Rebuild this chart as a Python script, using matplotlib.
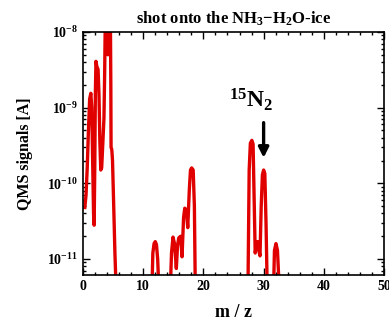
import matplotlib
matplotlib.use('Agg')
from matplotlib import pyplot as plt
from matplotlib.ticker import MultipleLocator, LogLocator, NullFormatter

# QMS scan, m/z vs signal (off-scale points clipped)
mz = [0.30, 0.50, 0.70, 0.90, 1.10, 1.30, 1.45, 1.60, 1.75, 1.85,
      1.95, 2.05, 2.15, 2.30, 2.50, 2.65, 2.80, 2.95, 3.10, 3.30,
      3.48, 3.60, 3.70, 3.85, 4.00, 4.14, 4.28, 4.40, 4.55, 4.62,
      4.66, 4.78, 4.90, 5.10, 5.30, 5.50,
      11.45, 11.60, 11.80, 12.00, 12.20, 12.40, 12.60,
      14.50, 14.70, 14.95, 15.20, 15.50, 15.70, 15.90, 16.20, 16.45,
      16.70, 16.90, 17.15, 17.40, 17.65, 17.85, 18.05, 18.30, 18.50, 18.65,
      27.40, 27.60, 27.80, 28.05, 28.25, 28.45, 28.60, 28.80, 29.00,
      29.20, 29.40, 29.60, 29.80, 30.00, 30.20, 30.40, 30.60,
      31.65, 31.80, 32.05, 32.30, 32.60]
signal = [4.8e-11, 7e-11, 1.6e-10, 5e-10, 1.3e-9, 1.55e-9, 1.0e-9, 2e-10, 4e-11, 2.8e-11,
          1.5e-10, 1.5e-9, 4.1e-9, 3.5e-9, 3.2e-9, 1.5e-9, 3.5e-10, 1.5e-10, 1.6e-10, 3.5e-10,
          7.3e-10, 3e-9, 1.5e-8, 1.5e-8, 7e-9, 5e-9, 8e-9, 1.5e-8, 1.5e-8, 2e-9,
          3e-10, 2.8e-10, 2e-10, 5e-11, 1.2e-11, 4e-12,
          4e-12, 1.2e-11, 1.6e-11, 1.7e-11, 1.55e-11, 1.0e-11, 4e-12,
          4e-12, 1.2e-11, 1.95e-11, 1.6e-11, 7.5e-12, 1.5e-11, 1.9e-11, 2e-11, 1.07e-11,
          3.5e-11, 4.7e-11, 4.5e-11, 2.6e-11, 8e-11, 1.5e-10, 1.6e-10, 1.5e-10, 5e-11, 4e-12,
          4e-12, 1.5e-10, 3.4e-10, 3.7e-10, 3.3e-10, 5e-11, 1.2e-11, 1.5e-11, 1.7e-11,
          1.3e-11, 1.1e-11, 5e-11, 1.3e-10, 1.5e-10, 1.35e-10, 3e-11, 4e-12,
          4e-12, 1.3e-11, 1.6e-11, 1.3e-11, 4e-12]

arrow_x = 30.0
arrow_from, arrow_to = 6.9e-10, 2.0e-10

plt.rcParams['font.family'] = 'Liberation Serif'
plt.rcParams['font.weight'] = 'bold'
plt.rcParams['mathtext.fontset'] = 'custom'
plt.rcParams['mathtext.rm'] = 'Liberation Serif:bold'
plt.rcParams['mathtext.it'] = 'Liberation Serif:bold'
plt.rcParams['mathtext.bf'] = 'Liberation Serif:bold'

fig = plt.figure(figsize=(3.89, 3.20), dpi=100)
ax = fig.add_axes([0.2134, 0.1406, 0.7738, 0.7594])

ax.plot(mz, signal, color='#e00000', lw=2.4, solid_joinstyle='round')
ax.set_yscale('log')
ax.set_xlim(0, 50)
ax.set_ylim(6.15e-12, 1e-8)

ax.xaxis.set_major_locator(MultipleLocator(10))
ax.xaxis.set_minor_locator(MultipleLocator(2))
ax.yaxis.set_major_locator(LogLocator(base=10))
ax.yaxis.set_minor_locator(LogLocator(base=10, subs=range(2, 10)))
ax.yaxis.set_minor_formatter(NullFormatter())
ax.tick_params(which='both', direction='in', top=True, right=True, labelsize=10, width=1)
ax.tick_params(which='major', length=5)
ax.tick_params(which='minor', length=2.5)
for s in ax.spines.values():
    s.set_linewidth(1.2)

ax.set_title('shot onto the NH$_3$$-$H$_2$O-ice', fontsize=12, fontweight='bold', pad=6)
ax.set_xlabel('m / z', fontsize=13, fontweight='bold', labelpad=8)
ax.set_ylabel('QMS signals [A]', fontsize=11.5, fontweight='bold', labelpad=10)

ax.annotate('', xy=(arrow_x, arrow_to), xytext=(arrow_x, arrow_from),
            arrowprops=dict(arrowstyle='-|>', lw=2.4, color='black', mutation_scale=15))
ax.text(24.2, 1.0e-9, r'$^{15}\mathrm{N}_2$', fontsize=17, ha='left', va='baseline')

fig.savefig('out.png', dpi=100)
